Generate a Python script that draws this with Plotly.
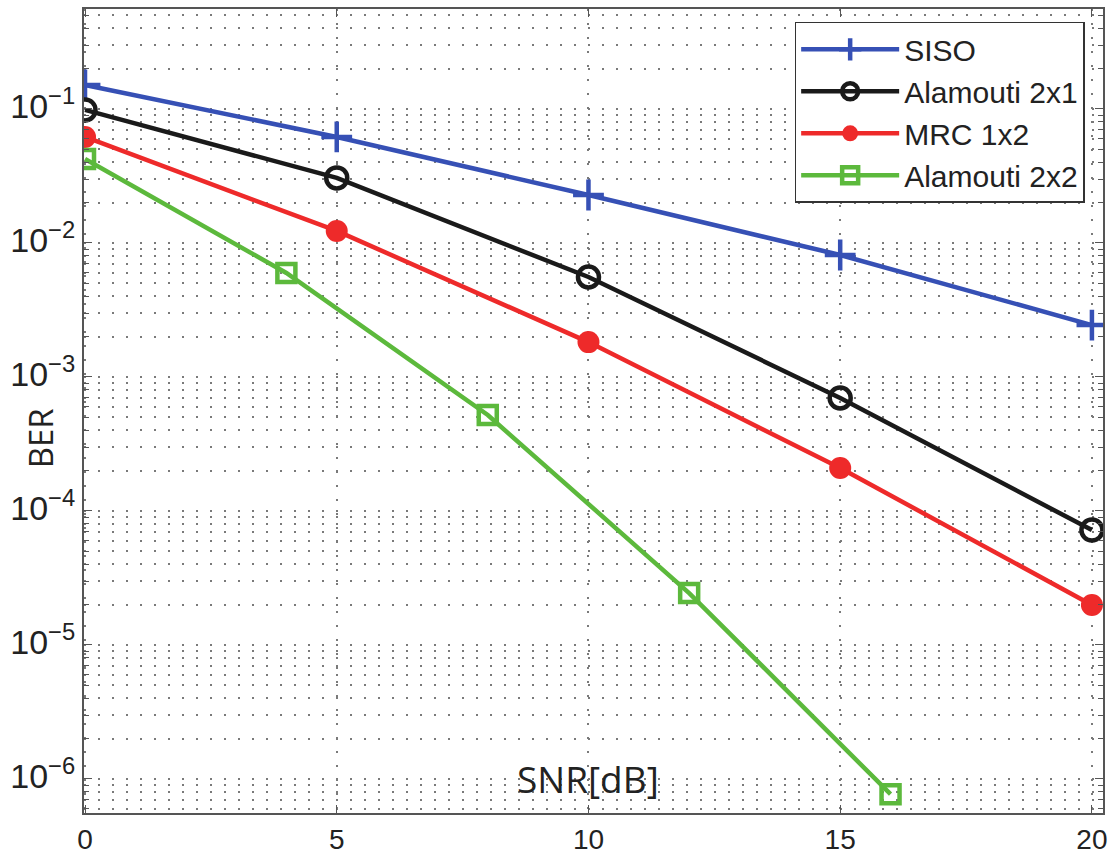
import plotly.graph_objects as go

# ---- data ----
snr_main = [0, 5, 10, 15, 20]
snr_22 = [0, 4, 8, 12, 16]
ber_siso = [0.151, 0.0618, 0.0228, 0.00813, 0.00244]
ber_ala21 = [0.0984, 0.0306, 0.00557, 0.000697, 7.2e-5]
ber_mrc12 = [0.0618, 0.0123, 0.00182, 0.000209, 1.99e-5]
ber_ala22 = [0.0424, 0.00597, 0.00052, 2.44e-5, 7.7e-7]

series_names = ["SISO", "Alamouti 2x1", "MRC 1x2", "Alamouti 2x2"]
x_ticks = [0, 5, 10, 15, 20]
y_decades = [-6, -5, -4, -3, -2, -1]

colors = ["#3650b5", "#1a1a1a", "#ee2a2a", "#5cb93c"]

fig = go.Figure()
fig.add_trace(go.Scatter(x=snr_main, y=ber_siso, name=series_names[0], mode="lines+markers",
                         line=dict(color=colors[0], width=4.5),
                         marker=dict(symbol="cross-thin", size=22, line=dict(color=colors[0], width=4.5))))
fig.add_trace(go.Scatter(x=snr_main, y=ber_ala21, name=series_names[1], mode="lines+markers",
                         line=dict(color=colors[1], width=4.5),
                         marker=dict(symbol="circle-open", size=21, line=dict(color=colors[1], width=4.5))))
fig.add_trace(go.Scatter(x=snr_main, y=ber_mrc12, name=series_names[2], mode="lines+markers",
                         line=dict(color=colors[2], width=4.5),
                         marker=dict(symbol="circle", size=22, color=colors[2])))
fig.add_trace(go.Scatter(x=snr_22, y=ber_ala22, name=series_names[3], mode="lines+markers",
                         line=dict(color=colors[3], width=4.5),
                         marker=dict(symbol="square-open", size=18, line=dict(color=colors[3], width=4.5))))

minor_vals = [m * 10.0 ** d for d in range(-7, 0) for m in range(2, 10)]

grid_style = dict(showgrid=True, gridcolor="#7a7a7a", gridwidth=2, griddash="2px,12px")

fig.update_layout(
    width=1108, height=854,
    margin=dict(l=84, r=5, t=9, b=41, autoexpand=False),
    paper_bgcolor="white", plot_bgcolor="white",
    font=dict(family="Liberation Sans, Arial", color="#222"),
    showlegend=True,
    legend=dict(x=0.982, y=0.984, xanchor="right", yanchor="top",
                bgcolor="white", bordercolor="#333", borderwidth=1.5,
                font=dict(size=30, family="Liberation Sans, Arial", color="#222"),
                itemwidth=98, tracegroupgap=0),
    xaxis=dict(range=[-0.02, 20.22], tickvals=x_ticks, ticks="inside", ticklen=8,
               tickcolor="#555", showline=True, linecolor="#555", linewidth=2,
               mirror="allticks", zeroline=False, automargin=False,
               ticklabeloverflow="allow",
               tickfont=dict(size=28, family="Liberation Sans, Arial", color="#222"),
               **grid_style),
    yaxis=dict(type="log", range=[-6.254, -0.254],
               tickvals=[10.0 ** d for d in y_decades],
               ticktext=["10<sup>\u2212%d</sup>" % (-d) for d in y_decades],
               ticks="inside", ticklen=8, tickcolor="#555",
               showline=True, linecolor="#555", linewidth=2, mirror="allticks",
               zeroline=False, automargin=False, ticklabelstandoff=0, ticklabelshift=-3,
               ticklabeloverflow="allow",
               tickfont=dict(size=34, family="Liberation Sans, Arial", color="#222"),
               minor=dict(tickmode="array", tickvals=minor_vals, ticks="inside", ticklen=5,
                          tickcolor="#555", showgrid=True, gridcolor="#7a7a7a",
                          gridwidth=2, griddash="2px,12px"),
               **grid_style),
    annotations=[
        dict(text="SNR[dB]", x=10, y=-6, xref="x", yref="y", showarrow=False,
             xanchor="center", yanchor="middle",
             font=dict(size=37, family="Open Sans", color="#222")),
        dict(text="BER", x=-0.0432, y=0.466, xref="paper", yref="paper", showarrow=False,
             xanchor="center", yanchor="middle", textangle=-90,
             font=dict(size=33, family="Open Sans", color="#222")),
    ],
)

for i, tr in enumerate(fig.data):
    tr.legendgroup = "g%d" % i

fig.write_html("out.html", config={"displayModeBar": False},
               post_script="document.body.style.margin='0px';document.body.style.overflow='hidden';")
